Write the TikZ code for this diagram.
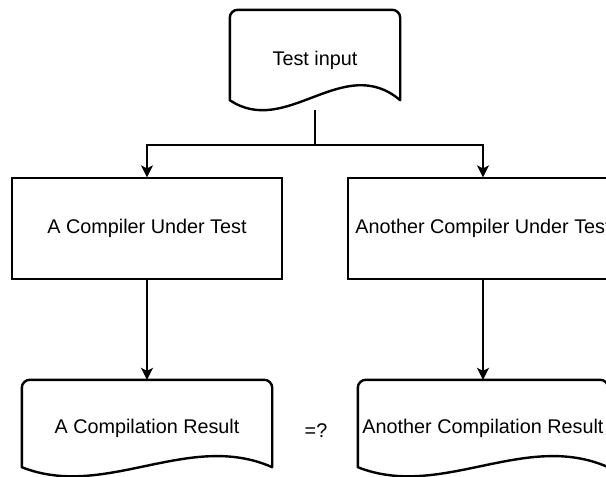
\documentclass[tikz,border=0pt]{standalone}
\usepackage{fontspec}
\setmainfont{Liberation Sans}
\usetikzlibrary{arrows.meta,calc}
\tikzset{
  lbl/.style={font=\fontsize{19.8}{24}\selectfont, inner sep=0pt, align=center},
  procbox/.style={lbl, draw, line width=1.2pt, minimum width=270pt, minimum height=101pt},
  docbox/.style={lbl, minimum height=#1},
  docline/.style={line width=2.4pt, line join=round},
  conn/.style={line width=1.4pt},
  arr/.style={conn, -{Stealth[length=12pt,width=12pt,inset=3pt]}}
}
% #1 node, #2 height of side ends above node bottom, #3 peak control, #4 dip control
\newcommand\mydocpath[4]{%
  \draw[docline] let \p1=(#1.north west), \p2=(#1.south east), \n1={(\x2-\x1)/3} in
    (\x1,\y2+#2) -- (\x1,\y1-8pt) arc[start angle=180,end angle=90,radius=8pt]
    -- (\x2-8pt,\y1) arc[start angle=90,end angle=0,radius=8pt]
    -- (\x2,\y2+#2)
    .. controls (\x2-\n1,\y2+#2+#3) and (\x1+\n1,\y2+#2-#4) .. (\x1,\y2+#2) -- cycle;
}
\begin{document}
\begin{tikzpicture}[x=1pt,y=-1pt]
  \useasboundingbox (0,0) rectangle (606,477);
  \clip (0,0) rectangle (606,477);
  % documents
  \node[docbox=100pt, minimum width=170pt] (in) at (315,60) {Test input};
  \mydocpath{in}{10pt}{48pt}{38pt}
  \node[procbox] (cut1) at (147,228.5) {A Compiler Under Test};
  \node[procbox] (cut2) at (483,228.5) {Another Compiler Under Test};
  \node[docbox=96pt, minimum width=250pt] (res1) at (147,428) {A Compilation Result};
  \mydocpath{res1}{9pt}{37pt}{33pt}
  \node[docbox=96pt, minimum width=250pt] (res2) at (483,428) {Another Compilation Result};
  \mydocpath{res2}{9pt}{37pt}{33pt}
  \node[lbl] (eq) at (316,431) {=?};
  % connectors
  \coordinate (j) at (315,145);
  \draw[conn] (in.south) -- (j);
  \draw[arr] (j) -| (cut1.north);
  \draw[arr] (j) -| (cut2.north);
  \draw[arr] (cut1.south) -- (res1.north);
  \draw[arr] (cut2.south) -- (res2.north);
\end{tikzpicture}
\end{document}
